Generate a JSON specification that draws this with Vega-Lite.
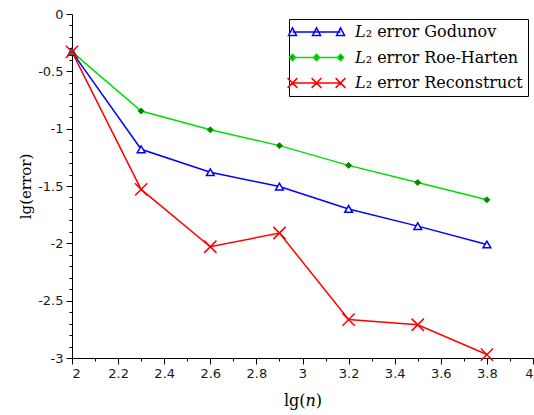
{
  "$schema": "https://vega.github.io/schema/vega-lite/v6.json",
  "width": 461,
  "height": 344,
  "autosize": {"type": "none"},
  "padding": {"left": 72, "top": 14, "right": 1, "bottom": 57},
  "background": "white",
  "config": {
    "view": {"stroke": null},
    "axis": {
      "labelFont": "DejaVu Sans",
      "labelFontSize": 13,
      "labelColor": "#1a1a1a",
      "domainColor": "black",
      "tickColor": "black",
      "grid": false,
      "titleFont": "DejaVu Serif",
      "titleFontWeight": "normal",
      "titleColor": "black"
    },
    "legend": {
      "orient": "top-right",
      "offset": 5,
      "strokeColor": "black",
      "strokeWidth": 1,
      "fillColor": "white",
      "padding": 5,
      "labelFont": "DejaVu Serif",
      "labelFontSize": 16,
      "labelColor": "black",
      "labelLimit": 400,
      "symbolSize": 196,
      "symbolOffset": 14.5,
      "symbolStrokeWidth": 1.5,
      "labelOffset": 30.5,
      "rowPadding": 9.5
    }
  },
  "data": {
    "values": [
      {"x": 2.0, "y": -0.33, "s": "Godunov"},
      {"x": 2.3, "y": -1.18, "s": "Godunov"},
      {"x": 2.6, "y": -1.38, "s": "Godunov"},
      {"x": 2.9, "y": -1.505, "s": "Godunov"},
      {"x": 3.2, "y": -1.70, "s": "Godunov"},
      {"x": 3.5, "y": -1.85, "s": "Godunov"},
      {"x": 3.8, "y": -2.01, "s": "Godunov"},
      {"x": 2.0, "y": -0.33, "s": "Roe-Harten"},
      {"x": 2.3, "y": -0.846, "s": "Roe-Harten"},
      {"x": 2.6, "y": -1.01, "s": "Roe-Harten"},
      {"x": 2.9, "y": -1.148, "s": "Roe-Harten"},
      {"x": 3.2, "y": -1.32, "s": "Roe-Harten"},
      {"x": 3.5, "y": -1.47, "s": "Roe-Harten"},
      {"x": 3.8, "y": -1.62, "s": "Roe-Harten"},
      {"x": 2.0, "y": -0.33, "s": "Reconstruct"},
      {"x": 2.3, "y": -1.53, "s": "Reconstruct"},
      {"x": 2.6, "y": -2.03, "s": "Reconstruct"},
      {"x": 2.9, "y": -1.91, "s": "Reconstruct"},
      {"x": 3.2, "y": -2.665, "s": "Reconstruct"},
      {"x": 3.5, "y": -2.71, "s": "Reconstruct"},
      {"x": 3.8, "y": -2.97, "s": "Reconstruct"}
    ]
  },
  "layer": [
    {
      "mark": {"type": "line", "strokeWidth": 1.5},
      "encoding": {
        "x": {
          "field": "x", "type": "quantitative",
          "scale": {"domain": [2, 4], "nice": false, "zero": false},
          "axis": {
            "orient": "bottom",
            "values": [2, 2.2, 2.4, 2.6, 2.8, 3, 3.2, 3.4, 3.6, 3.8, 4],
            "format": "~g",
            "labelExpr": "replace(datum.label, '−', '-')",
            "tickSize": 6,
            "labelPadding": 3,
            "title": "lg(𝑛)",
            "titleFontSize": 16,
            "titlePadding": 12
          }
        },
        "y": {
          "field": "y", "type": "quantitative",
          "scale": {"domain": [-3, 0], "nice": false, "zero": false},
          "axis": {
            "orient": "left",
            "values": [0, -0.5, -1, -1.5, -2, -2.5, -3],
            "format": "~g",
            "labelExpr": "replace(datum.label, '−', '-')",
            "tickSize": 6,
            "labelPadding": 3,
            "title": "lg(error)",
            "titleFontSize": 15,
            "titlePadding": 4
          }
        },
        "color": {
          "field": "s", "type": "nominal",
          "scale": {"domain": ["Godunov", "Roe-Harten", "Reconstruct"], "range": ["#0000ff", "#00dd00", "#ff0000"]},
          "legend": {
            "title": null,
            "labelExpr": "'𝐿₂ error ' + datum.label",
            "encode": {
              "symbols": {
                "update": {
                  "shape": {"signal": "datum.value === 'Godunov' ? 'M-3.43,0L3.43,0M-4,0.5L-3.43,-0.6L-2.86,0.5ZM-0.57,0.5L0,-0.6L0.57,0.5ZM2.86,0.5L3.43,-0.6L4,0.5Z' : datum.value === 'Roe-Harten' ? 'M-3.43,0L3.43,0M-3.43,-0.45L-2.98,0L-3.43,0.45L-3.88,0ZM0,-0.45L0.45,0L0,0.45L-0.45,0ZM3.43,-0.45L3.88,0L3.43,0.45L2.98,0Z' : 'M-3.43,0L3.43,0M-4.13,-0.7L-2.73,0.7M-2.73,-0.7L-4.13,0.7M-0.7,-0.7L0.7,0.7M0.7,-0.7L-0.7,0.7M2.73,-0.7L4.13,0.7M4.13,-0.7L2.73,0.7'"},
                  "fill": {"signal": "datum.value === 'Roe-Harten' ? '#008800' : datum.value === 'Godunov' ? 'white' : 'transparent'"},
                  "opacity": {"value": 1}
                }
              }
            }
          }
        }
      }
    },
    {
      "transform": [{"filter": "datum.s === 'Godunov'"}],
      "mark": {"type": "point", "shape": "triangle-up", "filled": false, "stroke": "#0000ff", "fill": "white", "strokeWidth": 1.5, "size": 60, "opacity": 1},
      "encoding": {
        "x": {"field": "x", "type": "quantitative", "axis": null},
        "y": {"field": "y", "type": "quantitative", "axis": null}
      }
    },
    {
      "transform": [{"filter": "datum.s === 'Roe-Harten'"}],
      "mark": {"type": "point", "shape": "diamond", "filled": true, "stroke": "#008800", "fill": "#008800", "strokeWidth": 1, "size": 36, "opacity": 1},
      "encoding": {
        "x": {"field": "x", "type": "quantitative", "axis": null},
        "y": {"field": "y", "type": "quantitative", "axis": null}
      }
    },
    {
      "transform": [{"filter": "datum.s === 'Reconstruct'"}],
      "mark": {"type": "point", "shape": "M-1,-1L1,1M1,-1L-1,1", "filled": false, "stroke": "#ff0000", "strokeWidth": 1.5, "size": 150, "opacity": 1},
      "encoding": {
        "x": {"field": "x", "type": "quantitative", "axis": null},
        "y": {"field": "y", "type": "quantitative", "axis": null}
      }
    },
    {
      "mark": {"type": "point", "opacity": 0},
      "encoding": {
        "x": {
          "field": "x", "type": "quantitative",
          "axis": {
            "orient": "bottom",
            "values": [2.1, 2.3, 2.5, 2.7, 2.9, 3.1, 3.3, 3.5, 3.7, 3.9],
            "labels": false, "domain": false, "tickSize": 3, "title": null
          }
        },
        "y": {
          "field": "y", "type": "quantitative",
          "axis": {
            "orient": "left",
            "values": [-0.1, -0.2, -0.3, -0.4, -0.6, -0.7, -0.8, -0.9, -1.1, -1.2, -1.3, -1.4, -1.6, -1.7, -1.8, -1.9, -2.1, -2.2, -2.3, -2.4, -2.6, -2.7, -2.8, -2.9],
            "labels": false, "domain": false, "tickSize": 3, "title": null
          }
        }
      }
    }
  ],
  "resolve": {"axis": {"x": "independent", "y": "independent"}}
}
